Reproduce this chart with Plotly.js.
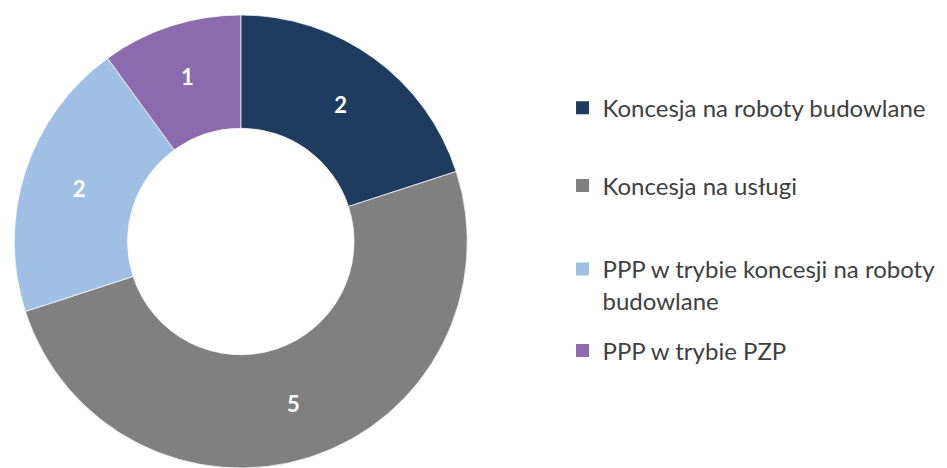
<!DOCTYPE html>
<html>
<head>
<meta charset="utf-8">
<script src="https://cdn.plot.ly/plotly-3.0.1.min.js"></script>
<style>html,body{margin:0;padding:0;background:#fff;}#chart{width:947px;height:468px;}</style>
</head>
<body>
<div id="chart"></div>
<script>
// Data
const categories = [
  "Koncesja na roboty budowlane",
  "Koncesja na usługi",
  "PPP w trybie koncesji na roboty<br>budowlane",
  "PPP w trybie PZP"
];
const values = [2, 5, 2, 1];
const colors = ["#1f3b60", "#808080", "#9fc0e4", "#8b6aad"];
const legendY = [0.769, 0.603, 0.391, 0.250];

const traces = [{
  type: "pie",
  labels: categories,
  values: values,
  sort: false,
  direction: "clockwise",
  rotation: 0,
  hole: 0.5,
  marker: {colors: colors, line: {color: "rgba(255,255,255,0.7)", width: 1}},
  textinfo: "value",
  textposition: "inside",
  insidetextorientation: "horizontal",
  textfont: {family: "Lato, sans-serif", size: 22, color: "#ffffff", weight: "bold"},
  showlegend: false,
  domain: {x: [0.0130, 0.4955], y: [0.0, 0.968]},
  hoverinfo: "label+value"
}];

const layout = {
  width: 947, height: 468,
  margin: {l: 0, r: 0, t: 0, b: 0},
  paper_bgcolor: "#ffffff",
  plot_bgcolor: "#ffffff",
  xaxis: {visible: false},
  yaxis: {visible: false},
  showlegend: true
};

categories.forEach((c, i) => {
  const key = i === 0 ? "legend" : "legend" + (i + 1);
  traces.push({
    type: "scatter", mode: "markers",
    x: [null], y: [null],
    name: c,
    legend: key,
    marker: {symbol: "square", size: 13, color: colors[i], line: {color: colors[i], width: 0}},
    hoverinfo: "skip"
  });
  layout[key] = {
    x: 0.594, xanchor: "left",
    y: legendY[i], yanchor: "middle",
    bgcolor: "rgba(0,0,0,0)",
    borderwidth: 0,
    valign: "top",
    font: {family: "Lato, sans-serif", size: 24, color: "#404040"}
  };
});

Plotly.newPlot("chart", traces, layout, {displayModeBar: false, staticPlot: true});
</script>
</body>
</html>
